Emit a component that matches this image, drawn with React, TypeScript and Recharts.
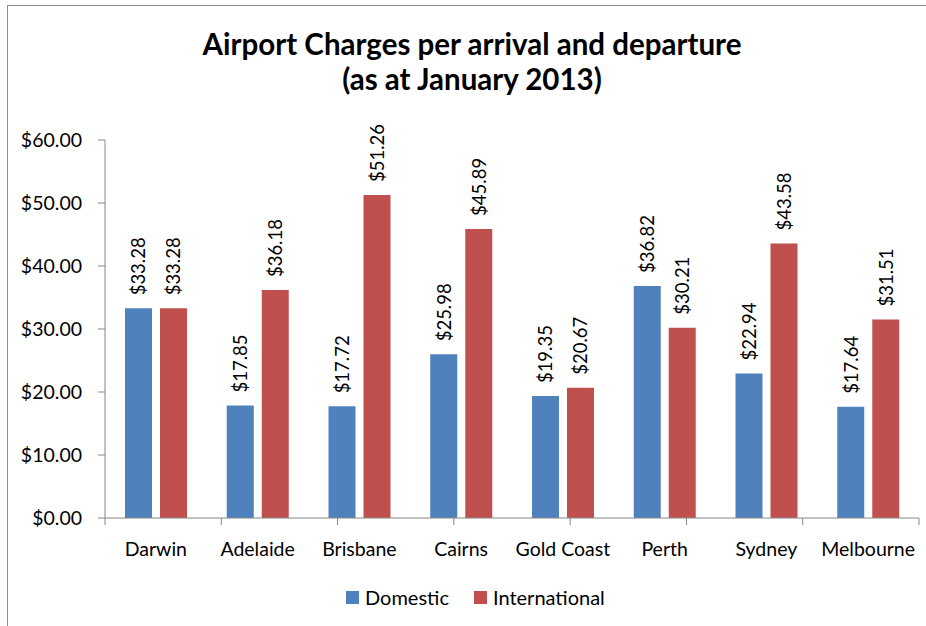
import { Bar, BarChart, LabelList, XAxis, YAxis } from "recharts";

const CITIES = ["Darwin", "Adelaide", "Brisbane", "Cairns", "Gold Coast", "Perth", "Sydney", "Melbourne"];
const DOMESTIC = [33.28, 17.85, 17.72, 25.98, 19.35, 36.82, 22.94, 17.64];
const INTERNATIONAL = [33.28, 36.18, 51.26, 45.89, 20.67, 30.21, 43.58, 31.51];
const Y_TICKS = [0, 10, 20, 30, 40, 50, 60];

const SERIES = [
  { key: "domestic", label: "Domestic", color: "#4F81BD" },
  { key: "international", label: "International", color: "#C0504D" },
] as const;

const FONT = "Lato, 'Noto Sans', sans-serif";
const AXIS_GREY = "#868686";

const data = CITIES.map((city, i) => ({
  city,
  domestic: DOMESTIC[i],
  international: INTERNATIONAL[i],
}));

// boundaries between categories, for the little tick marks under the x axis
const EDGES = [...CITIES.map((_, i) => i), CITIES.length];

const money = (v: number) => `$${v.toFixed(2)}`;

function RotatedLabel(props: any) {
  const { x, y, width, value } = props;
  const cx = Number(x) + Number(width) / 2;
  const cy = Number(y) - 13;
  return (
    <text
      x={cx}
      y={cy}
      transform={`rotate(-90, ${cx}, ${cy})`}
      textAnchor="start"
      dominantBaseline="central"
      fontSize={18.5}
      fontFamily={FONT}
      fill="#000"
    >
      {money(Number(value))}
    </text>
  );
}

export default function App() {
  return (
    <div
      style={{
        position: "absolute",
        top: 0,
        left: 0,
        width: 926,
        height: 626,
        overflow: "hidden",
        background: "#fff",
        fontFamily: FONT,
      }}
    >
      {/* chart frame, runs off the right and bottom of the picture */}
      <div
        style={{
          position: "absolute",
          left: 7,
          top: 5,
          width: 940,
          height: 660,
          border: "1px solid #8c8c8c",
        }}
      />
      <div
        style={{
          position: "absolute",
          left: 7,
          top: 26,
          width: 930,
          textAlign: "center",
          fontWeight: 700,
          fontSize: 29.5,
          lineHeight: "35px",
          color: "#000",
        }}
      >
        Airport Charges per arrival and departure
        <br />
        (as at January 2013)
      </div>

      <div style={{ position: "absolute", left: 0, top: 0 }}>
        <BarChart
          width={926}
          height={626}
          data={data}
          margin={{ top: 140, right: 7, left: 8, bottom: 60 }}
          barCategoryGap={20}
          barGap={8}
        >
          {/* axis 0 sits right on the plot: line plus boundary ticks only */}
          <XAxis
            xAxisId={0}
            type="number"
            domain={[0, CITIES.length]}
            ticks={EDGES}
            height={8}
            tickSize={7}
            tickFormatter={() => ""}
            axisLine={{ stroke: AXIS_GREY }}
            tickLine={{ stroke: AXIS_GREY }}
          />
          <XAxis
            xAxisId={1}
            dataKey="city"
            height={40}
            axisLine={false}
            tickLine={false}
            tickSize={0}
            tickMargin={16}
            interval={0}
            tick={{ fontSize: 19.5, fill: "#000", fontFamily: FONT }}
          />
          <YAxis
            width={97}
            domain={[0, 60]}
            ticks={Y_TICKS}
            tickFormatter={money}
            tickSize={7}
            tickMargin={16}
            axisLine={{ stroke: AXIS_GREY }}
            tickLine={{ stroke: AXIS_GREY }}
            tick={{ fontSize: 19.5, fill: "#000", fontFamily: FONT }}
          />
          {SERIES.map((s) => (
            <Bar
              key={s.key}
              xAxisId={1}
              dataKey={s.key}
              name={s.label}
              fill={s.color}
              isAnimationActive={false}
            >
              <LabelList dataKey={s.key} content={RotatedLabel} />
            </Bar>
          ))}
        </BarChart>
      </div>

      <div
        style={{
          position: "absolute",
          left: 346,
          top: 585,
          display: "flex",
          alignItems: "center",
          fontSize: 20,
          color: "#000",
        }}
      >
        {SERIES.map((s) => (
          <div key={s.key} style={{ display: "flex", alignItems: "center", marginRight: 25 }}>
            <span style={{ width: 13, height: 13, background: s.color, marginRight: 6 }} />
            <span>{s.label}</span>
          </div>
        ))}
      </div>
    </div>
  );
}
